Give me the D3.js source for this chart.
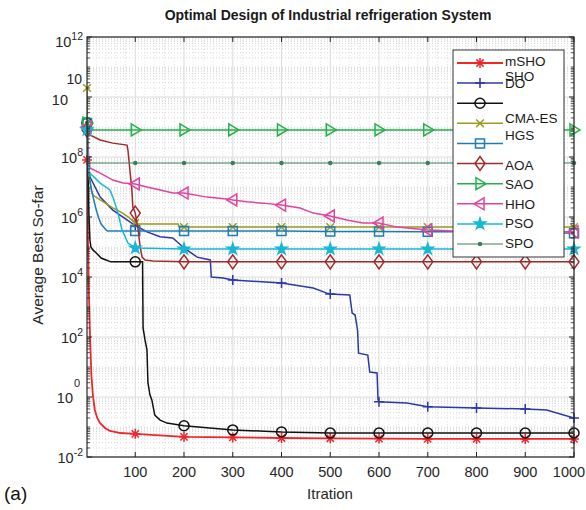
<!DOCTYPE html>
<html>
<head>
<meta charset="utf-8">
<script src="https://cdn.jsdelivr.net/npm/d3@7"></script>
<style>
  body { margin: 0; background: #fff; }
  svg text { font-family: "Liberation Sans", Arial, Helvetica, sans-serif; fill: #262626; }
</style>
</head>
<body>
<div id="chart"></div>
<script>
// iteration, average best so far
var mSHO = [[1,8e7],[3,1.7e5],[5,2.5e3],[7,135],[10,5.4],[13,1.17],[17,0.37],[22,0.2],[28,0.135],[38,0.093],[48,0.074],[70,0.063],[100,0.059],[200,0.047],[300,0.045],[400,0.043],[500,0.042],[600,0.041],[700,0.04],[800,0.04],[900,0.04],[1000,0.04]];
var SHO = [[1,9.3e8],[3,6e7],[5,3.2e7],[7,2.2e7],[28,4.6e6],[54,1.7e6],[83,8e5],[100,5.2e5],[124,3.2e5],[151,2.2e5],[177,2e5],[200,9.3e4],[227,4.6e4],[254,3.7e4],[256,1e4],[280,9.3e3],[300,8e3],[400,6.3e3],[465,4.3e3],[493,2.9e3],[500,2.7e3],[540,2.5e3],[545,630],[551,540],[556,170],[558,29],[577,25],[581,6.8],[596,6.3],[598,0.8],[600,0.7],[657,0.63],[700,0.47],[800,0.43],[900,0.4],[944,0.37],[1000,0.2]];
var DO = [[1,1.35e9],[3,3.7e7],[5,1.17e6],[7,1.7e5],[9,1e5],[13,8e4],[20,6.3e4],[30,4.3e4],[40,3.7e4],[50,3.2e4],[100,3.2e4],[115,3.2e4],[116,200],[120,80],[124,37],[126,3],[130,1.2],[134,0.8],[140,0.25],[151,0.17],[165,0.135],[200,0.11],[300,0.08],[400,0.068],[500,0.063],[600,0.063],[700,0.063],[800,0.063],[900,0.063],[1000,0.063]];
var CMAES = [[1,2e10],[2,8e8],[3,8e7],[5,2.5e7],[7,1.35e7],[13,5.4e6],[28,3.7e6],[54,2e6],[74,1.35e6],[88,9.3e5],[100,6.3e5],[104,5.8e5],[188,5.8e5],[190,4.6e5],[200,4.6e5],[300,4.6e5],[400,4.6e5],[500,4.6e5],[600,4.6e5],[700,4.6e5],[800,4.6e5],[900,4.6e5],[1000,4.6e5]];
var HGS = [[1,1.35e9],[3,1.7e8],[5,4.3e7],[7,1.7e7],[10,8e6],[15,3.7e6],[20,1.7e6],[25,9.3e5],[30,5.8e5],[40,3.7e5],[43,3.4e5],[100,3.4e5],[200,3.4e5],[300,3.4e5],[400,3.4e5],[500,3.3e5],[600,3.3e5],[700,3.2e5],[800,3.2e5],[900,3.1e5],[1000,2.9e5]];
var AOA = [[1,8e8],[7,5.4e8],[28,3.7e8],[54,2.9e8],[83,2.5e8],[85,1.7e8],[89,3.7e7],[93,8e6],[95,2.2e6],[100,1.35e6],[106,3.7e5],[110,1e5],[114,4.6e4],[120,3.7e4],[136,3.4e4],[200,3.2e4],[300,3.2e4],[400,3.2e4],[500,3.2e4],[600,3.2e4],[700,3.2e4],[800,3.2e4],[900,3.2e4],[1000,3.2e4]];
var SAO = [[1,1.35e9],[3,8e8],[100,8e8],[200,8e8],[300,8e8],[400,8e8],[500,8e8],[600,8e8],[700,8e8],[800,8e8],[900,8e8],[1000,8e8]];
var HHO = [[1,1e9],[3,2.5e8],[5,8e7],[7,4.3e7],[28,2.9e7],[54,1.7e7],[75,1.35e7],[100,1.26e7],[124,1e7],[151,8e6],[177,6.3e6],[200,6.3e6],[247,4.6e6],[288,4e6],[300,3.7e6],[329,3.2e6],[362,2.9e6],[400,2.5e6],[438,2e6],[465,1.35e6],[500,1.08e6],[534,8e5],[567,6.3e5],[600,6.3e5],[637,4.6e5],[700,3.7e5],[752,3.4e5],[800,3.3e5],[900,3.2e5],[1000,3.2e5]];
var PSO = [[1,8e8],[3,8e7],[5,3.7e7],[7,2.9e7],[28,1.35e7],[48,8e6],[54,4.6e6],[63,1.7e6],[73,3.7e5],[85,1.35e5],[100,9.3e4],[200,8.6e4],[300,8.6e4],[400,8.6e4],[500,8.6e4],[600,8.6e4],[700,8.6e4],[800,8.6e4],[900,8.6e4],[1000,8.6e4]];
var SPO = [[1,1.35e9],[2,8e7],[4,6.3e7],[100,6.3e7],[200,6.3e7],[300,6.3e7],[400,6.3e7],[500,6.3e7],[600,6.3e7],[700,6.3e7],[800,6.3e7],[900,6.3e7],[1000,6.3e7]];

var names = ["mSHO", "SHO", "DO", "CMA-ES", "HGS", "AOA", "SAO", "HHO", "PSO", "SPO"];
var markerIters = [1, 100, 200, 300, 400, 500, 600, 700, 800, 900, 1000];
var xTicks = [100, 200, 300, 400, 500, 600, 700, 800, 900, 1000];
var yMajor = [1e-2, 1e0, 1e2, 1e4, 1e6, 1e8, 1e10, 1e12];

var series = [
    { name: "mSHO", data: mSHO, color: "#f0262b", marker: "asterisk", w: 1.8 },
    { name: "SHO", data: SHO, color: "#2b38a8", marker: "plus", w: 1.5 },
    { name: "DO", data: DO, color: "#111111", marker: "circle", w: 1.5 },
    { name: "CMA-ES", data: CMAES, color: "#9b9b1f", marker: "cross", w: 1.5 },
    { name: "HGS", data: HGS, color: "#1c7db4", marker: "square", w: 1.5 },
    { name: "AOA", data: AOA, color: "#a3282b", marker: "diamond", w: 1.5 },
    { name: "SAO", data: SAO, color: "#22b24a", marker: "triR", w: 1.5 },
    { name: "HHO", data: HHO, color: "#e0449e", marker: "triL", w: 1.5 },
    { name: "PSO", data: PSO, color: "#18b8d4", marker: "star", w: 1.5 },
    { name: "SPO", data: SPO, color: "#3d7f5c", marker: "dot", w: 1.1 }
];

var width = 586, height = 510;
var pLeft = 87, pRight = 574, pTop = 37, pBottom = 457;

var svg = d3.select("#chart").append("svg")
    .attr("width", width)
    .attr("height", height);

var x = d3.scaleLinear().domain([1, 1000]).range([pLeft, pRight]);
var y = d3.scaleLog().domain([1e-2, 1e12]).range([pBottom, pTop]);

// minor values on the log axis
var yMinor = [];
for (var e = -2; e < 12; e++) {
    for (var k = 1; k <= 9; k++) {
        if (k == 1 && e % 2 == 0) continue;
        yMinor.push(k * Math.pow(10, e));
    }
}
var xMinor = d3.range(20, 1000, 20).filter(d => d % 100 != 0);

var grid = svg.append("g");

grid.selectAll(".ymin")
    .data(yMinor)
    .enter()
    .append("line")
    .attr("x1", pLeft).attr("x2", pRight)
    .attr("y1", d => y(d)).attr("y2", d => y(d))
    .attr("stroke", "#cccccc")
    .attr("stroke-width", 0.8)
    .attr("stroke-dasharray", "1,2");

grid.selectAll(".xmin")
    .data(xMinor)
    .enter()
    .append("line")
    .attr("x1", d => x(d)).attr("x2", d => x(d))
    .attr("y1", pTop).attr("y2", pBottom)
    .attr("stroke", "#dddddd")
    .attr("stroke-width", 0.8)
    .attr("stroke-dasharray", "1,2");

grid.selectAll(".ymaj")
    .data(yMajor)
    .enter()
    .append("line")
    .attr("x1", pLeft).attr("x2", pRight)
    .attr("y1", d => y(d)).attr("y2", d => y(d))
    .attr("stroke", "#dcdcdc")
    .attr("stroke-width", 1);

grid.selectAll(".xmaj")
    .data(xTicks)
    .enter()
    .append("line")
    .attr("x1", d => x(d)).attr("x2", d => x(d))
    .attr("y1", pTop).attr("y2", pBottom)
    .attr("stroke", "#dcdcdc")
    .attr("stroke-width", 1);

svg.append("clipPath").attr("id", "clip")
    .append("rect")
    .attr("x", pLeft).attr("y", pTop)
    .attr("width", pRight - pLeft).attr("height", pBottom - pTop);

var line = d3.line()
    .x(d => x(d[0]))
    .y(d => y(d[1]));

function markerPath(m) {
    switch (m) {
        case "asterisk": return "M-5,0H5M0,-5V5M-3.6,-3.6L3.6,3.6M-3.6,3.6L3.6,-3.6";
        case "plus": return "M-5,0H5M0,-5V5";
        case "circle": return "M5,0A5,5 0 1,1 -5,0A5,5 0 1,1 5,0Z";
        case "cross": return "M-3.8,-3.8L3.8,3.8M-3.8,3.8L3.8,-3.8";
        case "square": return "M-4.5,-4.5H4.5V4.5H-4.5Z";
        case "diamond": return "M0,-7L5,0L0,7L-5,0Z";
        case "triR": return "M-4,-6L6,0L-4,6Z";
        case "triL": return "M4,-6L-6,0L4,6Z";
        case "star": return d3.symbol().type(d3.symbolStar).size(38)();
        case "dot": return "M1.5,0A1.5,1.5 0 1,1 -1.5,0A1.5,1.5 0 1,1 1.5,0Z";
    }
}
function markerFill(s) {
    return (s.marker == "star" || s.marker == "dot") ? s.color : "none";
}

series.forEach(function(s) {
    var g = svg.append("g");
    g.append("path")
        .datum(s.data)
        .attr("clip-path", "url(#clip)")
        .attr("fill", "none")
        .attr("stroke", s.color)
        .attr("stroke-width", s.w)
        .attr("d", line);

    g.selectAll("path.mk")
        .data(s.data.filter(d => markerIters.indexOf(d[0]) >= 0))
        .enter()
        .append("path")
        .attr("class", "mk")
        .attr("d", markerPath(s.marker))
        .attr("transform", d => "translate(" + x(d[0]) + "," + y(d[1]) + ")")
        .attr("fill", markerFill(s))
        .attr("stroke", s.color)
        .attr("stroke-width", 1.5);
});

// axes box and ticks
var ax = svg.append("g").attr("stroke", "#262626");
ax.append("rect")
    .attr("x", pLeft).attr("y", pTop)
    .attr("width", pRight - pLeft).attr("height", pBottom - pTop)
    .attr("fill", "none")
    .attr("stroke-width", 1.2);

ax.selectAll(".xt")
    .data(xTicks)
    .enter()
    .append("path")
    .attr("d", d => "M" + x(d) + "," + pBottom + "v-5M" + x(d) + "," + pTop + "v5")
    .attr("stroke-width", 1);

ax.selectAll(".ytmin")
    .data(yMinor)
    .enter()
    .append("path")
    .attr("d", d => "M" + pLeft + "," + y(d) + "h3M" + pRight + "," + y(d) + "h-3")
    .attr("stroke-width", 0.8);

ax.selectAll(".ytmaj")
    .data(yMajor)
    .enter()
    .append("path")
    .attr("d", d => "M" + pLeft + "," + y(d) + "h5M" + pRight + "," + y(d) + "h-5")
    .attr("stroke-width", 1);

// tick labels
svg.append("g")
    .selectAll("text")
    .data(xTicks)
    .enter()
    .append("text")
    .attr("x", d => Math.min(x(d), 569))
    .attr("y", pBottom + 20)
    .attr("text-anchor", "middle")
    .style("font-size", "14.5px")
    .text(d => d);

var yLab = svg.append("g");
yMajor.forEach(function(v) {
    var p = Math.round(Math.log10(v));
    var yy = y(v);
    if (p == 10) {
        yLab.append("text").attr("x", 82).attr("y", yy - 13).attr("text-anchor", "end")
            .style("font-size", "14px").text("10");
        yLab.append("text").attr("x", 68).attr("y", yy + 8).attr("text-anchor", "end")
            .style("font-size", "14.5px").text("10");
        return;
    }
    if (p == 0) {
        yLab.append("text").attr("x", 80).attr("y", yy - 10).attr("text-anchor", "end")
            .style("font-size", "11px").text("0");
        yLab.append("text").attr("x", 73).attr("y", yy + 6).attr("text-anchor", "end")
            .style("font-size", "14.5px").text("10");
        return;
    }
    var t = yLab.append("text")
        .attr("x", 83)
        .attr("y", yy + (p == 12 ? 10 : 6))
        .attr("text-anchor", "end")
        .style("font-size", "14.5px");
    t.append("tspan").text("10");
    t.append("tspan").attr("dy", -7).style("font-size", "10.5px").text(p);
});

// titles
svg.append("text")
    .attr("x", 328)
    .attr("y", 20)
    .attr("text-anchor", "middle")
    .style("font-size", "14px")
    .style("font-weight", "bold")
    .style("fill", "#1a1a1a")
    .text("Optimal Design of Industrial refrigeration System");

svg.append("text")
    .attr("x", 330)
    .attr("y", 499)
    .attr("text-anchor", "middle")
    .style("font-size", "15px")
    .text("Itration");

svg.append("text")
    .attr("transform", "rotate(-90)")
    .attr("x", -255)
    .attr("y", 43)
    .attr("text-anchor", "middle")
    .style("font-size", "15.5px")
    .text("Average Best So-far");

svg.append("text")
    .attr("x", 4)
    .attr("y", 500)
    .style("font-size", "19px")
    .style("fill", "#111")
    .text("(a)");

// legend
var lg = svg.append("g");
lg.append("rect")
    .attr("x", 453).attr("y", 50)
    .attr("width", 111).attr("height", 207)
    .attr("fill", "#fff")
    .attr("stroke", "#333")
    .attr("stroke-width", 1);

var legY = d3.scaleLinear().domain([0, 9]).range([63, 244]);
// label positions as they appear (shifted) in the original legend
var labelY = [61, 76, 83, 118, 135, 165, 184, 204, 223, 243];

series.forEach(function(s, i) {
    var ly = legY(i);
    lg.append("line")
        .attr("x1", 457).attr("x2", 503)
        .attr("y1", ly).attr("y2", ly)
        .attr("stroke", s.color)
        .attr("stroke-width", s.w);
    lg.append("path")
        .attr("d", markerPath(s.marker))
        .attr("transform", "translate(480," + ly + ")")
        .attr("fill", markerFill(s))
        .attr("stroke", s.color)
        .attr("stroke-width", 1.5);
    lg.append("text")
        .attr("x", 505)
        .attr("y", labelY[i] + 5)
        .style("font-size", "13.5px")
        .style("fill", "#1a1a1a")
        .text(names[i]);
});
</script>
</body>
</html>
